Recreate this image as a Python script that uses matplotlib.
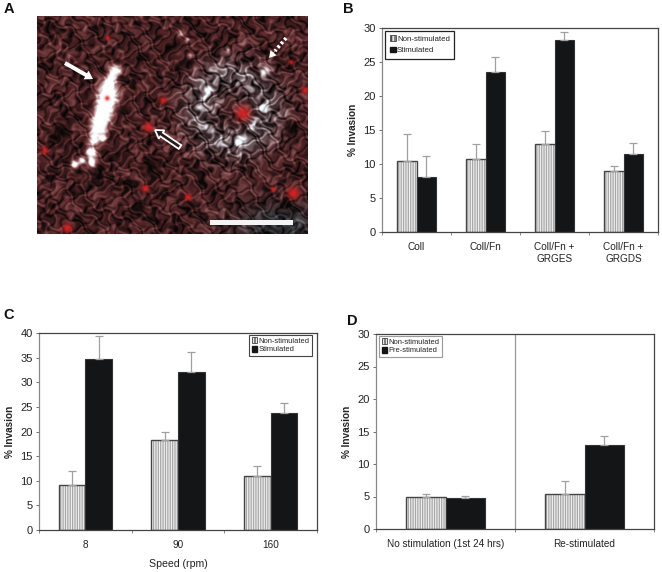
import numpy as np
import matplotlib
matplotlib.use("Agg")
import matplotlib.pyplot as plt
from matplotlib.colors import LinearSegmentedColormap
from matplotlib.patches import Patch, FancyArrow

plt.rcParams['font.family'] = ['Liberation Sans', 'DejaVu Sans']
plt.rcParams['hatch.linewidth'] = 0.9

W, H = 662, 572

# panel B
b_cats = ['Coll', 'Coll/Fn', 'Coll/Fn +\nGRGES', 'Coll/Fn +\nGRGDS']
b_non = [10.5, 10.8, 13.0, 9.0]
b_non_err = [3.9, 2.1, 1.8, 0.7]
b_stim = [8.1, 23.5, 28.2, 11.5]
b_stim_err = [3.1, 2.2, 1.2, 1.6]

# panel C
c_cats = ['8', '90', '160']
c_non = [9.2, 18.2, 10.9]
c_non_err = [2.7, 1.8, 2.0]
c_stim = [34.8, 32.0, 23.7]
c_stim_err = [4.6, 4.1, 2.0]

# panel D
d_cats = ['No stimulation (1st 24 hrs)', 'Re-stimulated']
d_non = [5.0, 5.4]
d_non_err = [0.4, 2.0]
d_pre = [4.7, 12.9]
d_pre_err = [0.4, 1.4]

# micrograph features, in reference pixels
red_spots = [(148, 127, 4), (163, 100, 3), (145, 188, 3), (293, 193, 5), (305, 90, 3),
             (67, 228, 4), (188, 197, 3), (243, 113, 6), (108, 38, 2), (291, 62, 2),
             (273, 189, 2), (45, 150, 3), (107, 98, 2)]
white_cell = [(115, 70, 5), (110, 80, 5), (108, 92, 8), (106, 104, 9), (102, 116, 8), (98, 128, 7),
              (94, 140, 5), (91, 152, 4), (92, 162, 4), (82, 160, 3), (74, 164, 3), (103, 138, 3)]
dark_edges = [(100, 168, 4), (78, 172, 4), (95, 175, 3), (118, 62, 4), (190, 62, 4), (178, 68, 5),
              (120, 110, 5), (150, 165, 6), (60, 130, 7), (290, 130, 5), (140, 205, 6)]
pale_streaks = [(203, 97, 3), (208, 90, 3), (198, 107, 3), (257, 120, 3), (252, 128, 3), (262, 108, 3),
                (180, 33, 3), (187, 40, 2), (190, 55, 3), (228, 50, 2), (265, 72, 4), (240, 140, 5)]


def add_axes_px(left, top, right, bottom):
    return fig.add_axes([left / W, 1 - bottom / H, (right - left) / W, (bottom - top) / H])


def blobs(xx, yy, items):
    out = np.zeros_like(xx)
    for x, y, r in items:
        out += np.exp(-((xx - x) ** 2 + (yy - y) ** 2) / (2 * (r * 0.8) ** 2))
    return np.clip(out, 0, 1)


def bar_panel(ax, cats, s1, e1, s2, e2, ymax, step):
    x = np.arange(len(cats))
    w = 0.287
    ax.bar(x - w / 2, s1, w, color='#f0f0f0', edgecolor='#a8a8a8', hatch='|' * 7, linewidth=0)
    ax.bar(x - w / 2, s1, w, color='none', edgecolor='#444444', linewidth=1.0)
    ax.bar(x + w / 2, s2, w, color='#141517', edgecolor='#333333', linewidth=0.8)
    ax.errorbar(x - w / 2, s1, yerr=[np.zeros(len(cats)), e1], fmt='none', ecolor='#a0a0a0',
                elinewidth=0.9, capsize=2.6, capthick=0.9, zorder=1)
    ax.errorbar(x + w / 2, s2, yerr=[np.zeros(len(cats)), e2], fmt='none', ecolor='#a0a0a0',
                elinewidth=0.9, capsize=2.6, capthick=0.9, zorder=1)
    ax.set_xlim(-0.5, len(cats) - 0.5)
    ax.set_ylim(0, ymax)
    ax.set_yticks(np.arange(0, ymax + 1, step))
    ax.set_xticks(x)
    ax.set_xticklabels(cats, fontsize=7.2, color='#222222', linespacing=1.25)
    ax.set_xticks(np.arange(-0.5, len(cats)), minor=True)
    ax.tick_params(axis='x', which='major', length=0, pad=7)
    ax.tick_params(axis='x', which='minor', length=2.5, width=0.6, color='#777777')
    ax.tick_params(axis='y', length=2.5, width=0.6, color='#555555', labelsize=8, labelcolor='#222222', pad=2)
    ax.set_ylabel('% Invasion', fontsize=7.2, fontweight='bold', color='#222222', labelpad=4)
    for s in ax.spines.values():
        s.set_color('#444444')
        s.set_linewidth(0.9)
    ax.spines['left'].set_color('#888888')


def legend_box(ax, labels, anchor, edge, lw, fs=5.7, spacing=0.45, pad=0.55):
    handles = [Patch(facecolor='#e8e8e8', edgecolor='#444444', hatch='|||||', linewidth=0.6),
               Patch(facecolor='#141517', edgecolor='#141517')]
    leg = ax.legend(handles, labels, loc='upper left', bbox_to_anchor=anchor, bbox_transform=ax.transAxes,
                    fontsize=fs, frameon=True, fancybox=False, framealpha=1, edgecolor=edge,
                    handlelength=0.75, handleheight=0.75, handletextpad=0.2, labelspacing=spacing,
                    borderpad=pad, borderaxespad=0)
    leg.get_frame().set_linewidth(lw)
    for t in leg.get_texts():
        t.set_color('#222222')


fig = plt.figure(figsize=(W / 100, H / 100), dpi=100, facecolor='white')

# panel A - micrograph
ax_a = add_axes_px(37, 16, 308, 234)
ys, xs = np.mgrid[16:234:0.5, 37:308:0.5]
warp_x = xs + 6 * np.sin(ys * 0.13 + 0.7 * np.sin(xs * 0.09)) + 3 * np.sin(ys * 0.41 + xs * 0.17)
warp_y = ys + 6 * np.sin(xs * 0.11 + 0.9 * np.sin(ys * 0.07)) + 3 * np.sin(xs * 0.37 - ys * 0.21)
tex = (np.sin(warp_x * 0.71) * np.sin(warp_y * 0.83)
       + 0.8 * np.sin((warp_x + 0.6 * warp_y) * 0.47)
       + 0.7 * np.sin((warp_y - 0.8 * warp_x) * 0.59)
       + 0.9 * np.sin(warp_x * 0.13 + 1.3) * np.sin(warp_y * 0.17 + 0.4)) / 2.6
tex = np.clip(0.27 + 0.36 * tex, 0, 1)
ring = np.exp(-((np.hypot(xs - 233, ys - 110) - 33) / 22) ** 2)
grey = tex * (0.8 + 0.7 * ring) * (1 - 0.8 * blobs(xs, ys, dark_edges))
grey = grey + 1.0 * blobs(xs, ys, white_cell) + 0.6 * blobs(xs, ys, pale_streaks)
grey = np.clip(grey, 0, 1)
cmap = LinearSegmentedColormap.from_list('micro', ['#080606', '#4d2224', '#8c5052', '#c8b0b0', '#ffffff'])
rgb = cmap(grey)[:, :, :3]
# ring around the cell and lower right corner lose the red tint
desat = np.clip(0.6 * ring + 1.1 * np.exp(-(((xs - 280) / 45) ** 2 + ((ys - 225) / 22) ** 2)), 0, 1)[:, :, None]
rgb = rgb * (1 - desat) + rgb.mean(axis=2, keepdims=True) * np.array([0.95, 1.0, 1.05]) * desat
rs = blobs(xs, ys, red_spots)[:, :, None]
rgb = rgb * (1 - rs) + np.array([0.85, 0.13, 0.13]) * rs
ax_a.imshow(np.clip(rgb, 0, 1), extent=(37, 308, 234, 16), interpolation='bilinear', aspect='auto')
ax_a.set_xlim(37, 308)
ax_a.set_ylim(234, 16)
ax_a.axis('off')
# scale bar
ax_a.fill_between([210, 293], 220, 224.5, color='#f4f4f4', lw=0)
# arrows
ax_a.add_patch(FancyArrow(65, 63, 28, 16, width=4, head_width=10, head_length=8,
                          length_includes_head=True, color='white', lw=0))
ax_a.add_patch(FancyArrow(180, 147, -25, -17, width=4.5, head_width=10, head_length=8,
                          length_includes_head=True, facecolor='#2a1a1a', edgecolor='white', lw=1.3))
ax_a.plot([286, 275], [38, 51], color='white', lw=2.6, ls=(0, (0.7, 0.7)))
ax_a.add_patch(FancyArrow(275, 51, -6, 7, width=0.5, head_width=8, head_length=7,
                          length_includes_head=True, color='white', lw=0))

# panel B
ax_b = add_axes_px(382, 28, 658, 232)
bar_panel(ax_b, b_cats, b_non, b_non_err, b_stim, b_stim_err, 30, 5)
legend_box(ax_b, ['Non-stimulated', 'Stimulated'], (0.012, 0.985), '#222222', 0.9)

# panel C
ax_c = add_axes_px(39, 333, 317, 530)
bar_panel(ax_c, c_cats, c_non, c_non_err, c_stim, c_stim_err, 40, 5)
ax_c.set_xlabel('Speed (rpm)', fontsize=7.6, color='#222222', labelpad=7)
legend_box(ax_c, ['Non-stimulated', 'Stimulated'], (0.757, 0.99), '#444444', 0.8, fs=5.4, spacing=0.2, pad=0.3)

# panel D
ax_d = add_axes_px(376, 334, 654, 529)
bar_panel(ax_d, d_cats, d_non, d_non_err, d_pre, d_pre_err, 30, 5)
ax_d.axvline(0.5, color='#999999', lw=0.9, zorder=0)
legend_box(ax_d, ['Non-stimulated', 'Pre-stimulated'], (0.012, 0.99), '#999999', 0.8, fs=5.4, spacing=0.2, pad=0.3)

# panel letters
for letter, px, py in [('A', 4, 9), ('B', 343, 9), ('C', 3, 315), ('D', 347, 321)]:
    fig.text(px / W, 1 - py / H, letter, fontsize=10.5, fontweight='bold', ha='left', va='center', color='#111111')

fig.savefig('out.png', dpi=100)
